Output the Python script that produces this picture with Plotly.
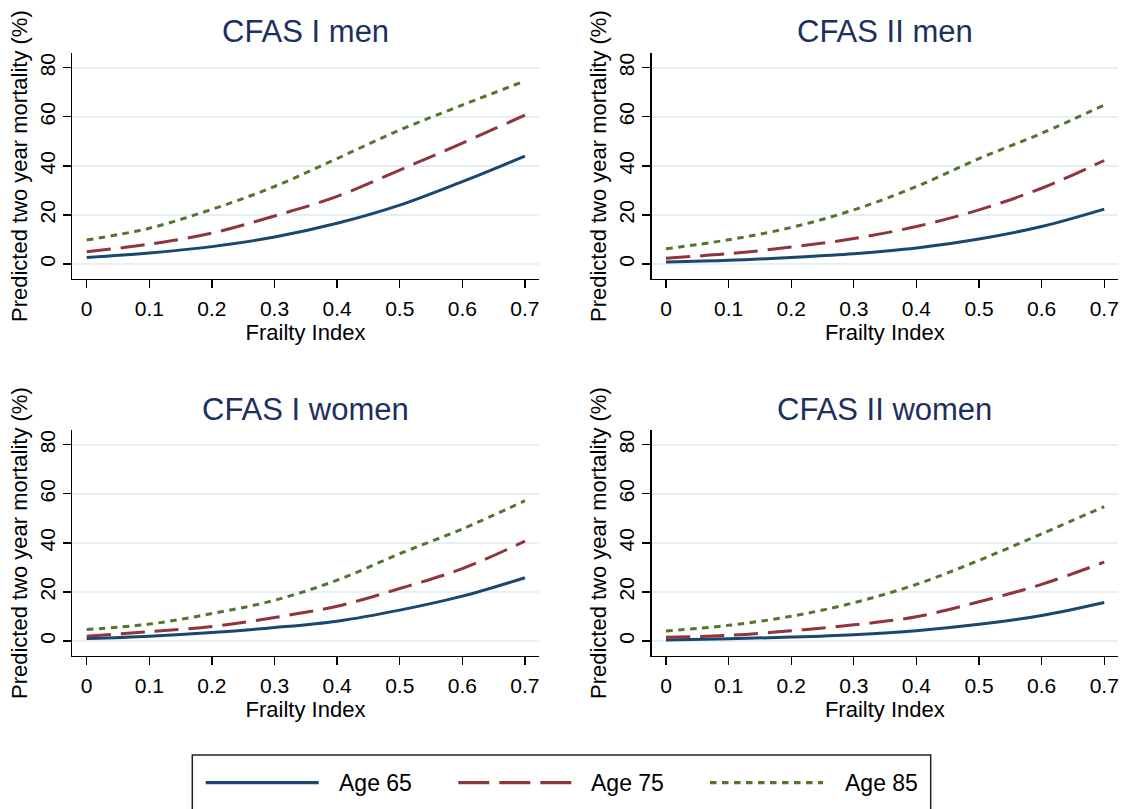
import plotly.graph_objects as go

frailty = [0, 0.1, 0.2, 0.3, 0.4, 0.5, 0.6, 0.7]

panel_titles = ["CFAS I men", "CFAS II men", "CFAS I women", "CFAS II women"]
series_names = ["Age 65", "Age 75", "Age 85"]

cfas1_men_65 = [2.7, 4.5, 7.1, 11.0, 16.6, 24.0, 33.6, 44.0]
cfas1_men_75 = [5.0, 8.1, 12.6, 19.6, 27.6, 38.3, 49.3, 60.7]
cfas1_men_85 = [9.8, 14.6, 22.3, 31.6, 43.0, 54.6, 64.8, 74.6]

cfas2_men_65 = [0.8, 1.5, 2.7, 4.2, 6.5, 10.2, 15.3, 22.4]
cfas2_men_75 = [2.4, 4.2, 6.9, 10.4, 15.3, 22.1, 30.9, 42.2]
cfas2_men_85 = [6.2, 9.9, 14.9, 22.1, 31.6, 43.0, 53.3, 64.8]

cfas1_women_65 = [1.0, 2.0, 3.5, 5.5, 8.1, 12.6, 18.3, 25.8]
cfas1_women_75 = [2.0, 3.8, 5.9, 9.6, 14.2, 21.4, 29.5, 40.7]
cfas1_women_85 = [4.7, 6.9, 11.2, 16.6, 24.8, 35.6, 45.7, 57.2]

cfas2_women_65 = [0.4, 0.9, 1.6, 2.6, 4.2, 6.8, 10.4, 15.7]
cfas2_women_75 = [1.5, 2.3, 4.2, 6.6, 9.9, 16.0, 23.1, 32.2]
cfas2_women_85 = [4.1, 6.4, 10.1, 15.6, 23.1, 32.9, 43.7, 54.8]

y_ticks = [0, 20, 40, 60, 80]
x_ticks = [0, 0.1, 0.2, 0.3, 0.4, 0.5, 0.6, 0.7]
x_tick_labels = ["0", "0.1", "0.2", "0.3", "0.4", "0.5", "0.6", "0.7"]

panels = [
    [cfas1_men_65, cfas1_men_75, cfas1_men_85],
    [cfas2_men_65, cfas2_men_75, cfas2_men_85],
    [cfas1_women_65, cfas1_women_75, cfas1_women_85],
    [cfas2_women_65, cfas2_women_75, cfas2_women_85],
]

W, H = 1127, 809
colors = ["#1a476f", "#90353b", "#55752f"]
dashes = ["solid", "24px,10px", "6.5px,5.5px"]
legend_dashes = ["solid", "31px,10px", "6.5px,5.5px"]
FONT = "Liberation Sans, Arial, sans-serif"
TITLE_COLOR = "#1c2f5e"

# pixel boxes (left, right, top, bottom) of each plot region
boxes = [(72.3, 538.7, 53.3, 279), (651.6, 1118, 53.3, 279),
         (72.3, 538.7, 430.3, 656), (651.6, 1118, 430.3, 656)]
title_y = [32, 32, 409, 409]

fig = go.Figure()
layout = {}
for i, (series, box) in enumerate(zip(panels, boxes)):
    n = "" if i == 0 else str(i + 1)
    for j, vals in enumerate(series):
        fig.add_trace(go.Scatter(
            x=frailty, y=vals, mode="lines",
            line=dict(color=colors[j], width=3, dash=dashes[j], shape="spline", smoothing=1.0),
            name=series_names[j], showlegend=False,
            xaxis="x" + n, yaxis="y" + n, hoverinfo="skip"))
    l, r, t, b = box
    layout["xaxis" + n] = dict(
        domain=[l / W, r / W], range=[-0.023, 0.722], anchor="y" + n,
        tickvals=x_ticks, ticktext=x_tick_labels, ticks="outside", ticklen=8,
        tickwidth=1.3, tickcolor="#000", showline=True, linecolor="#000", linewidth=1.3,
        showgrid=False, zeroline=False, ticklabelstandoff=2,
        tickfont=dict(family=FONT, size=21, color="#000"),
        title=dict(text="Frailty Index", font=dict(family=FONT, size=22, color="#000"), standoff=0))
    layout["yaxis" + n] = dict(
        domain=[1 - b / H, 1 - t / H], range=[-6.1, 85.9], anchor="x" + n,
        tickvals=y_ticks, ticks="outside", ticklen=8, tickwidth=1.3, tickcolor="#000",
        tickangle=-90, showline=True, linecolor="#000", linewidth=1.3,
        showgrid=True, gridcolor="#e6eff2", gridwidth=1.8, zeroline=False,
        tickfont=dict(family=FONT, size=21, color="#000"),
        title=dict(text="Predicted two year mortality (%)",
                   font=dict(family=FONT, size=22, color="#000"), standoff=2))

annotations = []
for i, box in enumerate(boxes):
    l, r, t, b = box
    annotations.append(dict(
        text=panel_titles[i], x=(l + r) / 2 / W, y=1 - title_y[i] / H,
        xref="paper", yref="paper", xanchor="center", yanchor="middle",
        showarrow=False, font=dict(family=FONT, size=31, color=TITLE_COLOR)))

# legend (Stata style): box with long line keys
shapes = [dict(type="rect", xref="paper", yref="paper",
               x0=192.3 / W, x1=930.7 / W, y0=1 - 840 / H, y1=1 - 755 / H,
               line=dict(color="#222", width=1.5), fillcolor="rgba(0,0,0,0)", layer="above")]
key_x0 = [205.7, 458.3, 710.0]
key_len = 113
text_x = [336.7, 589.3, 842.7]
leg_y = 782.7
for j in range(3):
    shapes.append(dict(type="line", xref="paper", yref="paper",
                       x0=key_x0[j] / W, x1=(key_x0[j] + key_len) / W,
                       y0=1 - leg_y / H, y1=1 - leg_y / H,
                       line=dict(color=colors[j], width=3.2, dash=legend_dashes[j])))
    annotations.append(dict(text=series_names[j], x=text_x[j] / W, y=1 - leg_y / H,
                            xref="paper", yref="paper", xanchor="left", yanchor="middle",
                            showarrow=False, font=dict(family=FONT, size=23, color="#000")))

fig.update_layout(
    **layout,
    annotations=annotations,
    shapes=shapes,
    width=W, height=H,
    margin=dict(l=0, r=0, t=0, b=0, autoexpand=False),
    paper_bgcolor="white", plot_bgcolor="white",
    showlegend=False,
)

fig.write_html("out.html", config={"displayModeBar": False, "staticPlot": True},
               post_script="document.body.style.margin='0';document.body.style.padding='0';")
